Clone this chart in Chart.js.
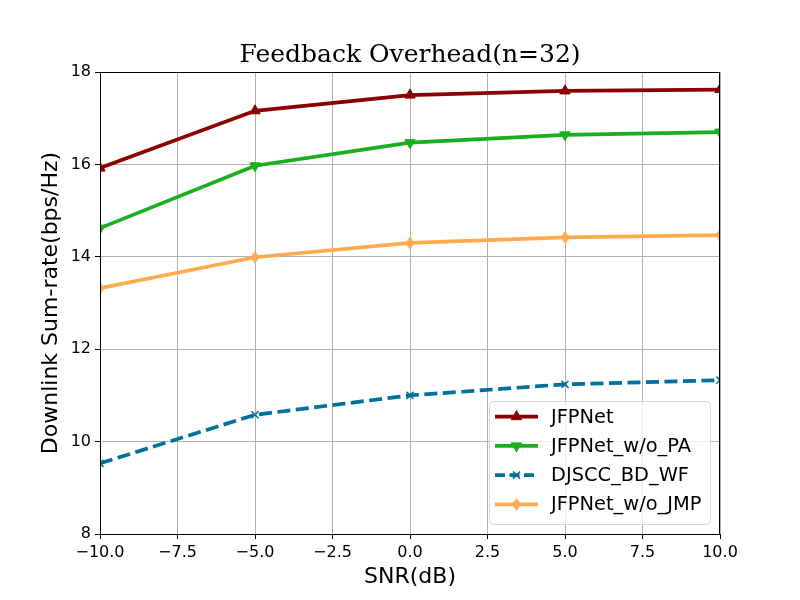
<!DOCTYPE html>
<html>
<head>
<meta charset="utf-8">
<script src="https://cdn.jsdelivr.net/npm/chart.js@4.4.1/dist/chart.umd.min.js"></script>
<style>
  html, body { margin: 0; padding: 0; background: #fff; }
  canvas { display: block; }
</style>
</head>
<body>
<canvas id="chart" width="800" height="600"></canvas>
<script>
// ====== Data ======
const snr = [-10, -5, 0, 5, 10];
const jfpnet = [15.92, 17.16, 17.50, 17.59, 17.62];
const jfpnetWoPA = [14.62, 15.97, 16.47, 16.64, 16.70];
const djsccBdWf = [9.53, 10.58, 11.00, 11.24, 11.33];
const jfpnetWoJMP = [13.32, 13.99, 14.30, 14.42, 14.47];
const seriesLabels = ['JFPNet', 'JFPNet_w/o_PA', 'DJSCC_BD_WF', 'JFPNet_w/o_JMP'];
const xTicks = [-10, -7.5, -5, -2.5, 0, 2.5, 5, 7.5, 10];
const yTicks = [8, 10, 12, 14, 16, 18];

const SANS = "'DejaVu Sans', sans-serif";
const minus = s => s.replace('-', '\u2212');
const pts = ys => ys.map((y, i) => ({ x: snr[i], y }));

// thin diamond marker (matplotlib 'd')
function thinDiamond(color) {
    const c = document.createElement('canvas');
    c.width = 9; c.height = 13;
    const g = c.getContext('2d');
    g.fillStyle = color;
    g.beginPath();
    g.moveTo(4.5, 0); g.lineTo(9, 6.5); g.lineTo(4.5, 13); g.lineTo(0, 6.5);
    g.closePath(); g.fill();
    return c;
}

const colors = ['#8b0000', '#19af1e', '#00709c', '#ffaa4d'];

function ds(label, data, color, extra) {
    return Object.assign({
        label, data: pts(data),
        borderColor: color, backgroundColor: color,
        pointBackgroundColor: color, pointBorderColor: color,
        borderWidth: 3.7, pointBorderWidth: 1, pointRadius: 6, pointHoverRadius: 6,
        tension: 0, clip: 0
    }, extra);
}

const datasets = [
    ds(seriesLabels[0], jfpnet, colors[0], { pointStyle: 'triangle' }),
    ds(seriesLabels[1], jfpnetWoPA, colors[1], { pointStyle: 'triangle', pointRotation: 180 }),
    ds(seriesLabels[2], djsccBdWf, colors[2], { pointStyle: 'crossRot', pointRadius: 5, pointBorderWidth: 1.5, borderDash: [13, 5.5] }),
    ds(seriesLabels[3], jfpnetWoJMP, colors[3], { pointStyle: thinDiamond(colors[3]) })
];

// ====== Frame + in-axes legend ======
const framePlugin = {
    id: 'frame',
    afterDatasetsDraw(chart) {
        const { ctx, chartArea: a } = chart;
        ctx.save();
        ctx.strokeStyle = '#000';
        ctx.lineWidth = 1;
        ctx.strokeRect(a.left + 0.5, a.top + 0.5, a.right - a.left - 1, a.bottom - a.top);
        ctx.restore();
    }
};

const legendPlugin = {
    id: 'innerLegend',
    afterDraw(chart) {
        const { ctx } = chart;
        const x0 = 489, y0 = 401, w = 221, h = 123, r = 4;
        ctx.save();
        ctx.fillStyle = 'rgba(255,255,255,0.8)';
        ctx.strokeStyle = 'rgba(204,204,204,0.8)';
        ctx.lineWidth = 1;
        ctx.beginPath();
        ctx.roundRect(x0 + 0.5, y0 + 0.5, w, h, r);
        ctx.fill(); ctx.stroke();
        chart.data.datasets.forEach((d, i) => {
            const y = 416.7 + i * 29.2;
            ctx.strokeStyle = d.borderColor;
            ctx.lineWidth = d.borderWidth;
            ctx.setLineDash(d.borderDash ? [10, 4.5] : []);
            ctx.beginPath();
            ctx.moveTo(495, y); ctx.lineTo(538, y);
            ctx.stroke();
            ctx.setLineDash([]);
            ctx.fillStyle = d.pointBackgroundColor;
            ctx.strokeStyle = d.pointBorderColor;
            ctx.lineWidth = d.pointBorderWidth;
            Chart.helpers.drawPoint(ctx, {
                pointStyle: d.pointStyle, rotation: d.pointRotation || 0,
                radius: d.pointRadius, borderWidth: d.pointBorderWidth
            }, 516.5, y);
            ctx.fillStyle = '#000';
            ctx.font = `19.4px ${SANS}`;
            ctx.textBaseline = 'middle';
            ctx.fillText(d.label, 551, y + 1);
        });
        ctx.restore();
    }
};

new Chart(document.getElementById('chart'), {
    type: 'line',
    data: { datasets },
    options: {
        responsive: false,
        animation: false,
        devicePixelRatio: 1,
        layout: { padding: { left: 0, right: 80, top: 0, bottom: 0 } },
        plugins: {
            legend: { display: false },
            tooltip: { enabled: false },
            title: {
                display: true, fullSize: false,
                text: 'Feedback Overhead(n=32)',
                color: '#000',
                font: { family: "'DejaVu Serif', serif", size: 25, weight: 'normal' },
                padding: { top: 40, bottom: 2 }
            }
        },
        scales: {
            x: {
                type: 'linear', min: -10, max: 10,
                afterBuildTicks: s => { s.ticks = xTicks.map(v => ({ value: v })); },
                afterFit: s => { s.height = 66; },
                ticks: {
                    color: '#000', font: { family: SANS, size: 16 }, padding: 4,
                    maxRotation: 0, autoSkip: false,
                    callback: v => minus(v.toFixed(1))
                },
                grid: { color: '#b0b0b0', lineWidth: 1, tickColor: '#000', tickLength: 5 },
                border: { color: '#000', width: 1 },
                title: {
                    display: true, text: 'SNR(dB)', color: '#000',
                    font: { family: SANS, size: 22 }, padding: { top: 0, bottom: 10 }
                }
            },
            y: {
                min: 8, max: 18,
                afterBuildTicks: s => { s.ticks = yTicks.map(v => ({ value: v })); },
                afterFit: s => { s.width = 100; },
                ticks: {
                    color: '#000', font: { family: SANS, size: 16 }, padding: 4,
                    autoSkip: false,
                    callback: v => minus(String(v))
                },
                grid: { color: '#b0b0b0', lineWidth: 1, tickColor: '#000', tickLength: 5 },
                border: { color: '#000', width: 1 },
                title: {
                    display: true, text: 'Downlink Sum-rate(bps/Hz)', color: '#000',
                    font: { family: SANS, size: 22 }, padding: { top: 38, bottom: 0 }
                }
            }
        }
    },
    plugins: [framePlugin, legendPlugin]
});
</script>
</body>
</html>
